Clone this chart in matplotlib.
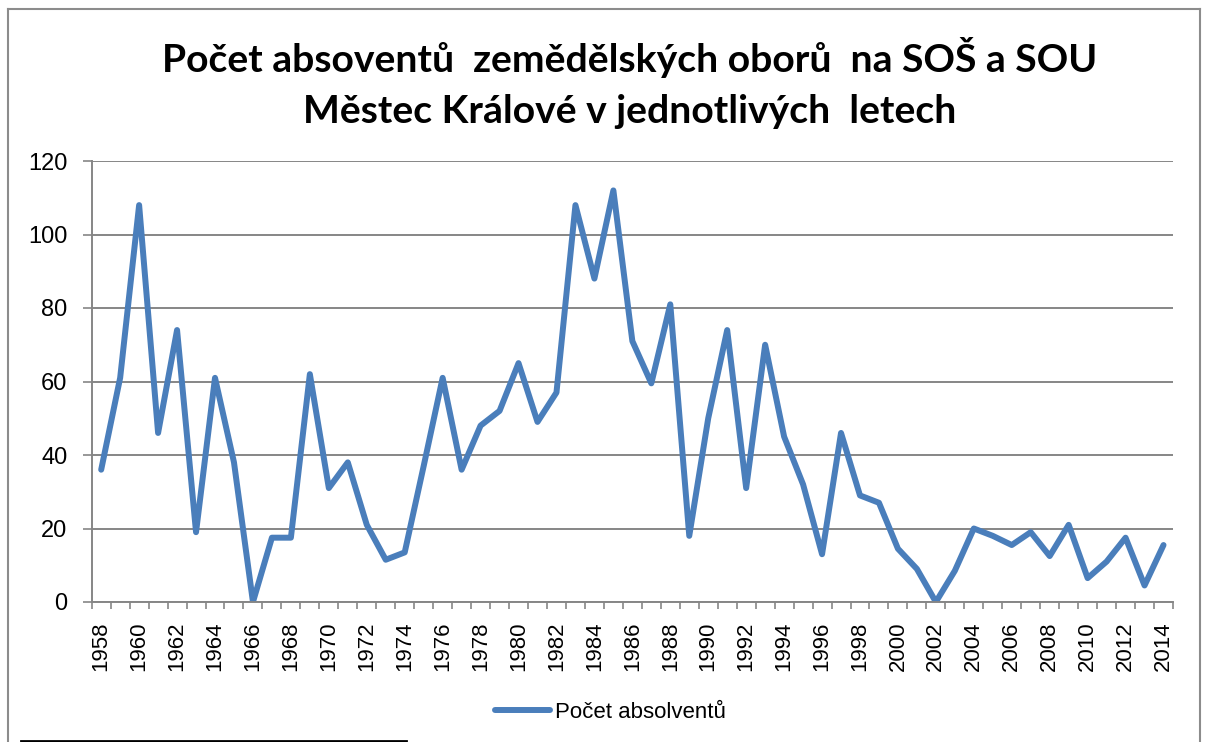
import numpy as np
import matplotlib
matplotlib.use("Agg")
import matplotlib.pyplot as plt
from matplotlib.lines import Line2D
from matplotlib.ticker import MultipleLocator

plt.rcParams['font.family'] = ['Liberation Sans', 'DejaVu Sans']

# Data
years = list(range(1958, 2015))
graduates = [36, 61, 108, 46, 74, 19, 61, 38, 0, 17.5,
             17.5, 62, 31, 38, 21, 11.5, 13.5, 37, 61, 36,
             48, 52, 65, 49, 57, 108, 88, 112, 71, 59.5,
             81, 18, 50, 74, 31, 70, 45, 32, 13, 46,
             29, 27, 14.5, 9, 0, 8.5, 20, 18, 15.5, 19,
             12.5, 21, 6.5, 11, 17.5, 4.5, 15.5]
series_name = "Počet absolventů"
title_line1 = "Počet absoventů  zemědělských oborů  na SOŠ a SOU"
title_line2 = "Městec Králové v jednotlivých  letech"

W, H = 1205, 742
fig = plt.figure(figsize=(W / 100, H / 100), dpi=100)
ax = fig.add_axes([91.7 / W, 1 - 602 / H, (1173 - 91.7) / W, (602 - 161) / H])

x = np.arange(len(years))
line, = ax.plot(x, graduates, color='#4A7EBB', linewidth=4.3,
                solid_joinstyle='round', solid_capstyle='round', label=series_name)

grid_col = '#868686'
ax.set_xlim(-0.5, len(years) - 0.5)
ax.set_ylim(0, 120)
ax.yaxis.set_major_locator(MultipleLocator(20))
ax.grid(axis='y', color=grid_col, linewidth=1.4)
ax.set_axisbelow(True)

for s in ['top', 'right']:
    ax.spines[s].set_visible(False)
for s in ['left', 'bottom']:
    ax.spines[s].set_color(grid_col)
    ax.spines[s].set_linewidth(1.4)

ax.set_xticks(x[::2])
ax.set_xticklabels([str(y) for y in years[::2]], rotation=90)
ax.set_xticks(np.arange(-0.5, len(years), 1), minor=True)
ax.tick_params(axis='x', which='major', length=0, pad=14, labelsize=16)
ax.tick_params(axis='x', which='minor', length=5, width=1.2, color=grid_col, direction='out')
ax.tick_params(axis='y', length=6.5, width=1.2, color=grid_col, pad=11, labelsize=17)

# title
tfont = ['Lato', 'DejaVu Sans']
fig.text(630 / W, 1 - 72 / H, title_line1, ha='center', va='baseline',
         fontsize=28.2, fontweight='bold', family=tfont)
fig.text(630 / W, 1 - 123 / H, title_line2, ha='center', va='baseline',
         fontsize=28.2, fontweight='bold', family=tfont)

# legend
fig.legend(handles=[line], loc='center', bbox_to_anchor=(610 / W, 1 - 712 / H),
           frameon=False, fontsize=16, handlelength=2.5, handletextpad=0.2)

# chart border and separator line
bc = '#8C8C8C'
fig.add_artist(Line2D([8 / W, 8 / W], [0, 1 - 9 / H], color=bc, linewidth=1.5))
fig.add_artist(Line2D([8 / W, 1200 / W], [1 - 9 / H, 1 - 9 / H], color=bc, linewidth=1.5))
fig.add_artist(Line2D([1200 / W, 1200 / W], [0, 1 - 9 / H], color=bc, linewidth=1.5))
fig.add_artist(Line2D([21 / W, 406 / W], [1 - 740.5 / H, 1 - 740.5 / H], color='black', linewidth=2))

fig.savefig("out.png", dpi=100)
